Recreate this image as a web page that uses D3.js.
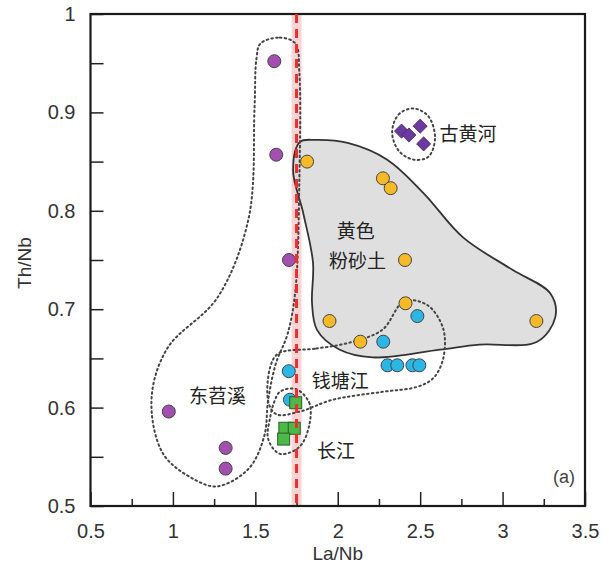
<!DOCTYPE html>
<html>
<head>
<meta charset="utf-8">
<script src="https://cdn.jsdelivr.net/npm/d3@7"></script>
<style>
  body { margin: 0; background: #fff; }
  .tick text { font-family: "Liberation Sans", Arial, sans-serif; font-size: 20px; fill: #333; }
  .cn { font-family: "Noto Sans CJK SC", sans-serif; font-size: 19px; fill: #222; }
</style>
</head>
<body>
<div id="chart"></div>
<script>
// sample groups: [La/Nb, Th/Nb]
const dongtiaoxi = [[1.615,0.952],[1.627,0.857],[1.704,0.750],[0.975,0.596],[1.320,0.559],[1.320,0.538]];
const loess = [[1.814,0.850],[2.274,0.833],[2.321,0.823],[2.408,0.750],[2.411,0.706],[1.950,0.688],[2.137,0.667],[3.205,0.688]];
const qiantang = [[2.483,0.693],[2.276,0.667],[2.302,0.643],[2.361,0.643],[2.453,0.643],[2.495,0.643],[1.703,0.637],[1.710,0.608]];
const changjiang = [[1.745,0.605],[1.679,0.579],[1.736,0.579],[1.672,0.568]];
const guhuanghe = [[2.387,0.881],[2.432,0.877],[2.500,0.886],[2.521,0.868]];

// outlines of the groups, in data units
const loessHull = [[1.771,0.870],[1.729,0.841],[1.79,0.798],[1.85,0.747],[1.844,0.706],[1.874,0.679],[2.01,0.659],[2.21,0.651],[2.62,0.659],[2.86,0.664],[3.21,0.667],[3.32,0.692],[3.29,0.716],[3.06,0.740],[2.76,0.773],[2.52,0.818],[2.30,0.852],[2.06,0.869],[1.87,0.872]];
const dongtiaoxiHull = [[1.531,0.970],[1.649,0.976],[1.743,0.970],[1.767,0.941],[1.767,0.830],[1.743,0.719],[1.696,0.675],[1.625,0.645],[1.578,0.608],[1.554,0.571],[1.46,0.538],[1.271,0.520],[1.13,0.527],[0.941,0.553],[0.870,0.608],[0.965,0.660],[1.271,0.712],[1.46,0.793],[1.495,0.904],[1.507,0.955]];
const qiantangHull = [[1.64,0.655],[1.87,0.66],[2.07,0.666],[2.27,0.679],[2.403,0.708],[2.545,0.704],[2.64,0.680],[2.64,0.650],[2.58,0.630],[2.48,0.621],[2.27,0.616],[1.97,0.608],[1.77,0.596],[1.63,0.593],[1.58,0.605],[1.59,0.641]];
const changjiangHull = [[1.743,0.619],[1.827,0.605],[1.827,0.582],[1.767,0.560],[1.649,0.553],[1.578,0.568],[1.59,0.590],[1.613,0.605],[1.649,0.616]];
const guhuangheHull = [[2.33,0.880],[2.37,0.898],[2.46,0.904],[2.55,0.896],[2.59,0.874],[2.55,0.855],[2.46,0.852],[2.37,0.861]];

const labels = [
  {t:"古黄河", x:2.79, y:0.880},
  {t:"黄色", x:2.11, y:0.7805},
  {t:"粉砂土", x:2.12, y:0.751},
  {t:"东苕溪", x:1.27, y:0.613},
  {t:"钱塘江", x:2.015, y:0.629},
  {t:"长江", x:1.99, y:0.557}
];
const refLine = 1.75;

const w = 609, h = 571;
const mLeft = 90.5, mRight = 585, mTop = 14, mBottom = 506;

const x = d3.scaleLinear().domain([0.5, 3.5]).range([mLeft, mRight]);
const y = d3.scaleLinear().domain([0.5, 1]).range([mBottom, mTop]);

const svg = d3.select("#chart").append("svg").attr("width", w).attr("height", h);

// pink band + hulls
svg.append("rect")
  .attr("x", x(refLine - 0.03)).attr("y", mTop)
  .attr("width", x(refLine + 0.03) - x(refLine - 0.03)).attr("height", mBottom - mTop)
  .attr("fill", "#f7b8b8").attr("opacity", 0.6);

const line = d3.line().x(d => x(d[0])).y(d => y(d[1])).curve(d3.curveCatmullRomClosed.alpha(0.5));

svg.append("path").attr("d", line(loessHull))
  .attr("fill", "#d9d9d9").attr("fill-opacity", 0.85)
  .attr("stroke", "#333").attr("stroke-width", 1.8);

[dongtiaoxiHull, qiantangHull, changjiangHull, guhuangheHull].forEach(hl => {
  svg.append("path").attr("d", line(hl))
    .attr("fill", "none").attr("stroke", "#444").attr("stroke-width", 2)
    .attr("stroke-dasharray", "1.6,3.2").attr("stroke-linecap", "round");
});

// axes
const xAxis = d3.axisBottom(x).tickValues(d3.range(0.5, 3.51, 0.25))
  .tickSize(0).tickPadding(18).tickFormat(d => (d * 2) % 1 === 0 ? d3.format("")(d) : "");
const gx = svg.append("g").attr("transform", "translate(0," + mBottom + ")").call(xAxis);
gx.select(".domain").remove();
gx.selectAll(".tick line").remove();
gx.selectAll(".tick").append("line")
  .attr("y1", 0).attr("y2", d => (d * 2) % 1 === 0 ? -14 : -7)
  .attr("stroke", "#222").attr("stroke-width", 1.5);

const yAxis = d3.axisLeft(y).tickValues(d3.range(0.5, 1.001, 0.05))
  .tickSize(0).tickPadding(15).tickFormat(d => Math.round(d * 100) % 10 === 0 ? d3.format("")(+d.toFixed(2)) : "");
const gy = svg.append("g").attr("transform", "translate(" + mLeft + ",0)").call(yAxis);
gy.select(".domain").remove();
gy.selectAll(".tick line").remove();
gy.selectAll(".tick").append("line")
  .attr("x1", 0).attr("x2", 13).attr("stroke", "#222").attr("stroke-width", 1.5);

svg.append("rect").attr("x", mLeft).attr("y", mTop)
  .attr("width", mRight - mLeft).attr("height", mBottom - mTop)
  .attr("fill", "none").attr("stroke", "#1a1a1a").attr("stroke-width", 2.2);

svg.append("text").attr("x", (mLeft + mRight) / 2).attr("y", 560)
  .attr("text-anchor", "middle").attr("font-family", "Liberation Sans, Arial, sans-serif")
  .attr("font-size", 19).attr("fill", "#333").text("La/Nb");
svg.append("text").attr("transform", "translate(31,263) rotate(-90)")
  .attr("text-anchor", "middle").attr("font-family", "Liberation Sans, Arial, sans-serif")
  .attr("font-size", 19).attr("fill", "#333").text("Th/Nb");

// points
function circles(data, fill) {
  svg.append("g").selectAll("circle").data(data).enter().append("circle")
    .attr("cx", d => x(d[0])).attr("cy", d => y(d[1])).attr("r", 6.5)
    .attr("fill", fill).attr("stroke", "#444").attr("stroke-width", 1);
}
circles(dongtiaoxi, "#a24fb0");
circles(loess, "#f6b928");
circles(qiantang, "#2bb6e6");

svg.append("g").selectAll("rect").data(changjiang).enter().append("rect")
  .attr("x", d => x(d[0]) - 6).attr("y", d => y(d[1]) - 6)
  .attr("width", 12).attr("height", 12)
  .attr("fill", "#4cb848").attr("stroke", "#2d5a27").attr("stroke-width", 1);

svg.append("g").selectAll("path").data(guhuanghe).enter().append("path")
  .attr("d", d3.symbol().type(d3.symbolSquare).size(100))
  .attr("transform", d => "translate(" + x(d[0]) + "," + y(d[1]) + ") rotate(45)")
  .attr("fill", "#6b3a9e").attr("stroke", "#4a2870").attr("stroke-width", 0.8);

// dashed reference line
svg.append("line")
  .attr("x1", x(refLine)).attr("x2", x(refLine)).attr("y1", mTop).attr("y2", mBottom)
  .attr("stroke", "#e8312f").attr("stroke-width", 3).attr("stroke-dasharray", "9,6");

svg.selectAll(".cn").data(labels).enter().append("text")
  .attr("class", "cn")
  .attr("x", d => x(d.x)).attr("y", d => y(d.y))
  .attr("text-anchor", "middle").attr("dominant-baseline", "central")
  .text(d => d.t);

svg.append("text").attr("x", 564).attr("y", 477)
  .attr("text-anchor", "middle").attr("dominant-baseline", "central")
  .attr("font-family", "Liberation Sans, Arial, sans-serif").attr("font-size", 18)
  .attr("fill", "#444").text("(a)");
</script>
</body>
</html>
